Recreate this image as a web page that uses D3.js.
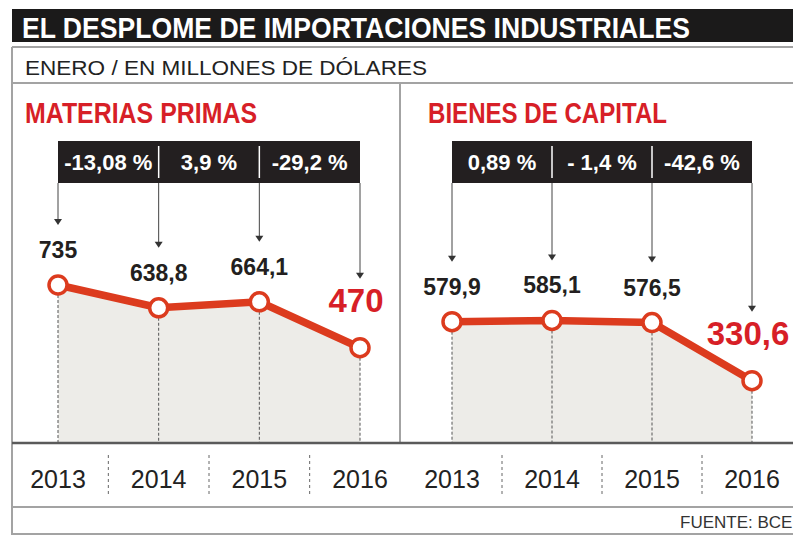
<!DOCTYPE html>
<html>
<head>
<meta charset="utf-8">
<script src="https://cdn.jsdelivr.net/npm/d3@7"></script>
<style>
  body { margin: 0; background: #fff; }
  svg { display: block; }
</style>
</head>
<body>
<div id="chart"></div>
<script>
// data
var years = ['2013', '2014', '2015', '2016'];
var materiasPrimas = [735, 638.8, 664.1, 470];
var bienesCapital = [579.9, 585.1, 576.5, 330.6];
var cambiosMP = ['-13,08 %', '3,9 %', '-29,2 %'];
var cambiosBC = ['0,89 %', '- 1,4 %', '-42,6 %'];
var titulos = ['MATERIAS PRIMAS', 'BIENES DE CAPITAL'];

var svg_width = 793;
var svg_height = 537;

var red_line = '#dc3b1e';
var red_text = '#d71f27';
var box_black = '#231f20';
var gray_line = '#a3a3a3';
var axis_y = 443;

var svg = d3.select('#chart')
  .append('svg')
  .attr('width', svg_width)
  .attr('height', svg_height);

var fmt = function(v) { return String(v).replace('.', ','); };

// shared vertical scale for both panels
var y = d3.scaleLinear()
  .domain([0, 735])
  .range([459, 285]);

// header
svg.append('rect')
  .attr('x', 12).attr('y', 9)
  .attr('width', svg_width - 12).attr('height', 33)
  .attr('fill', '#1b1a1a');

svg.append('text')
  .attr('x', 22).attr('y', 38)
  .attr('textLength', 668)
  .attr('lengthAdjust', 'spacingAndGlyphs')
  .style('font-family', '"Liberation Sans Narrow", "Liberation Sans", sans-serif')
  .style('font-weight', 'bold')
  .style('font-size', '30px')
  .attr('fill', '#fff')
  .text('EL DESPLOME DE IMPORTACIONES INDUSTRIALES');

// frame lines
var hlines = [47, 83, 507, 534];
svg.selectAll('line.frame')
  .data(hlines)
  .enter().append('line')
  .attr('class', 'frame')
  .attr('x1', 12).attr('x2', svg_width)
  .attr('y1', function(d) { return d; })
  .attr('y2', function(d) { return d; })
  .attr('stroke', gray_line)
  .attr('stroke-width', 2);

svg.append('line')
  .attr('x1', 12).attr('x2', 12)
  .attr('y1', 47).attr('y2', 535)
  .attr('stroke', gray_line)
  .attr('stroke-width', 2);

svg.append('line')
  .attr('x1', 400).attr('x2', 400)
  .attr('y1', 83).attr('y2', axis_y)
  .attr('stroke', gray_line)
  .attr('stroke-width', 2);

svg.append('text')
  .attr('x', 25).attr('y', 75)
  .attr('textLength', 402)
  .attr('lengthAdjust', 'spacingAndGlyphs')
  .style('font-family', '"Liberation Sans", Arial, sans-serif')
  .style('font-size', '20px')
  .attr('fill', '#222')
  .text('ENERO / EN MILLONES DE DÓLARES');

svg.append('text')
  .attr('x', 680).attr('y', 528)
  .style('font-family', '"Liberation Sans", Arial, sans-serif')
  .style('font-size', '17px')
  .attr('fill', '#333')
  .text('FUENTE: BCE');

// panels
var panels = [
  { title: titulos[0], values: materiasPrimas, changes: cambiosMP, range: [58, 360], titleX: 25, titleW: 232 },
  { title: titulos[1], values: bienesCapital, changes: cambiosBC, range: [452, 752], titleX: 428, titleW: 239 }
];

panels.forEach(function(p) {
  var x = d3.scalePoint().domain(years).range(p.range);
  var g = svg.append('g');
  var pts = years.map(function(yr, i) { return { year: yr, value: p.values[i], last: i === years.length - 1 }; });

  g.append('text')
    .attr('x', p.titleX).attr('y', 123)
    .attr('textLength', p.titleW)
    .attr('lengthAdjust', 'spacingAndGlyphs')
    .style('font-family', '"Liberation Sans Narrow", "Liberation Sans", sans-serif')
    .style('font-weight', 'bold')
    .style('font-size', '29px')
    .attr('fill', red_text)
    .text(p.title);

  // area under the line
  var area = d3.area()
    .x(function(d) { return x(d.year); })
    .y0(axis_y)
    .y1(function(d) { return y(d.value); });

  g.append('path')
    .datum(pts)
    .attr('d', area)
    .attr('fill', '#edece8');

  // dotted drop lines
  g.selectAll('line.drop')
    .data(pts)
    .enter().append('line')
    .attr('class', 'drop')
    .attr('x1', function(d) { return x(d.year); })
    .attr('x2', function(d) { return x(d.year); })
    .attr('y1', function(d) { return y(d.value); })
    .attr('y2', axis_y)
    .attr('stroke', '#555')
    .attr('stroke-width', 1)
    .attr('stroke-dasharray', '3,2');

  // change box
  var x0 = x(years[0]), x1 = x(years[years.length - 1]);
  g.append('rect')
    .attr('x', x0).attr('y', 141)
    .attr('width', x1 - x0).attr('height', 42)
    .attr('fill', box_black);

  g.selectAll('line.sep')
    .data(years.slice(1, -1))
    .enter().append('line')
    .attr('class', 'sep')
    .attr('x1', function(d) { return x(d); })
    .attr('x2', function(d) { return x(d); })
    .attr('y1', 146).attr('y2', 178)
    .attr('stroke', '#fff')
    .attr('stroke-width', 1.5);

  g.selectAll('text.chg')
    .data(p.changes)
    .enter().append('text')
    .attr('class', 'chg')
    .attr('x', function(d, i) { return (x(years[i]) + x(years[i + 1])) / 2; })
    .attr('y', 170)
    .attr('text-anchor', 'middle')
    .style('font-family', '"Liberation Sans", Arial, sans-serif')
    .style('font-weight', 'bold')
    .style('font-size', '22px')
    .attr('fill', '#fff')
    .text(function(d) { return d; });

  // value labels
  var labelY = function(d) { return y(d.value) - (d.last ? 36 : 27); };

  // arrows from the box down to each label
  g.selectAll('line.arrow')
    .data(pts)
    .enter().append('line')
    .attr('class', 'arrow')
    .attr('x1', function(d) { return x(d.year); })
    .attr('x2', function(d) { return x(d.year); })
    .attr('y1', 183)
    .attr('y2', function(d) { return labelY(d) - 38; })
    .attr('stroke', '#444')
    .attr('stroke-width', 1);

  g.selectAll('path.head')
    .data(pts)
    .enter().append('path')
    .attr('class', 'head')
    .attr('d', function(d) {
      var ax = x(d.year), ay = labelY(d) - 33;
      return 'M' + (ax - 4) + ',' + (ay - 6) + 'L' + (ax + 4) + ',' + (ay - 6) + 'L' + ax + ',' + ay + 'Z';
    })
    .attr('fill', '#333');

  g.selectAll('text.val')
    .data(pts)
    .enter().append('text')
    .attr('class', 'val')
    .attr('x', function(d) { return x(d.year) - (d.last ? 4 : 0); })
    .attr('y', labelY)
    .attr('text-anchor', 'middle')
    .style('font-family', function(d) { return d.last ? '"Liberation Sans Narrow", "Liberation Sans", sans-serif' : '"Liberation Sans", Arial, sans-serif'; })
    .style('font-weight', 'bold')
    .style('font-size', function(d) { return d.last ? '33px' : '23px'; })
    .attr('fill', function(d) { return d.last ? red_text : '#231f20'; })
    .text(function(d) { return fmt(d.value); });

  // line and markers
  var line = d3.line()
    .x(function(d) { return x(d.year); })
    .y(function(d) { return y(d.value); });

  g.append('path')
    .datum(pts)
    .attr('d', line)
    .attr('fill', 'none')
    .attr('stroke', red_line)
    .attr('stroke-width', 7.5)
    .attr('stroke-linejoin', 'round');

  g.selectAll('circle')
    .data(pts)
    .enter().append('circle')
    .attr('cx', function(d) { return x(d.year); })
    .attr('cy', function(d) { return y(d.value); })
    .attr('r', 9)
    .attr('fill', '#fff')
    .attr('stroke', red_line)
    .attr('stroke-width', 3.5);

  // year axis
  g.selectAll('text.year')
    .data(years)
    .enter().append('text')
    .attr('class', 'year')
    .attr('x', function(d) { return x(d); })
    .attr('y', 488)
    .attr('text-anchor', 'middle')
    .style('font-family', '"Liberation Sans", Arial, sans-serif')
    .style('font-size', '25px')
    .attr('fill', '#222')
    .text(function(d) { return d; });

  g.selectAll('line.ysep')
    .data(years.slice(1))
    .enter().append('line')
    .attr('class', 'ysep')
    .attr('x1', function(d, i) { return (x(years[i]) + x(d)) / 2; })
    .attr('x2', function(d, i) { return (x(years[i]) + x(d)) / 2; })
    .attr('y1', 455).attr('y2', 495)
    .attr('stroke', '#666')
    .attr('stroke-width', 1)
    .attr('stroke-dasharray', '3,3');
});

// axis line on top of everything
svg.append('line')
  .attr('x1', 12).attr('x2', svg_width)
  .attr('y1', axis_y).attr('y2', axis_y)
  .attr('stroke', '#5a5a5a')
  .attr('stroke-width', 2.5);
</script>
</body>
</html>
